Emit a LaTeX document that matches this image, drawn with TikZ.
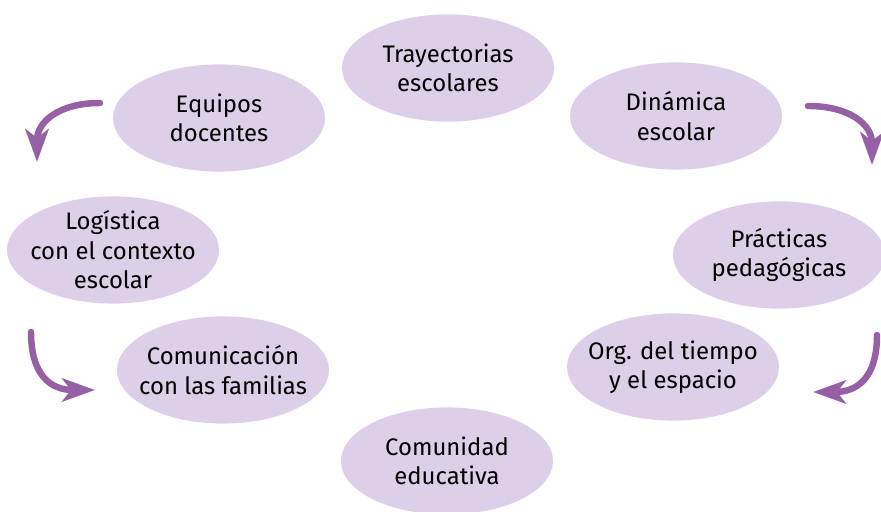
\documentclass[tikz,border=0pt]{standalone}
\usepackage{fontspec}
\setmainfont{Fira Sans}
\usetikzlibrary{shapes.geometric,arrows.meta}
\definecolor{lila}{RGB}{221,207,231}
\definecolor{violeta}{RGB}{150,96,165}
\begin{document}
\begin{tikzpicture}[
    x=0.025cm, y=0.025cm,
    every node/.style={ellipse, fill=lila, minimum width=5.3cm, minimum height=2.68cm, inner sep=-0.35cm, align=center, font=\fontsize{17}{21}\selectfont},
    arrow/.style={-{Stealth[length=0.82cm, width=0.58cm, inset=0.22cm]}, line width=4.6pt, line cap=round, violeta}
]
    \useasboundingbox (0,0) rectangle (881,512);

    % Nodes
    \node (tray) at (448,444) {Trayectorias\\escolares};
    \node (equi) at (219,394) {Equipos\\docentes};
    \node (dina) at (676,396) {Dinámica\\escolar};
    \node (logi) at (113,262) {Logística\\con el contexto\\escolar};
    \node (prac) at (779,257) {Prácticas\\pedagógicas};
    \node (comu) at (223,142) {Comunicación\\con las familias};
    \node (orga) at (673,145) {Org. del tiempo\\y el espacio};
    \node (cmed) at (447,51) {Comunidad\\educativa};

    % Arrow ends
    \coordinate (s1) at (100,409);
    \coordinate (t1) at (37,350);
    \coordinate (s2) at (808,406);
    \coordinate (t2) at (872,347);
    \coordinate (s3) at (31,180);
    \coordinate (t3) at (95,122);
    \coordinate (s4) at (877,177);
    \coordinate (t4) at (813,120);

    % Arrows
    \draw[arrow] (s1) to[out=180, in=90, looseness=1.2] (t1);
    \draw[arrow] (s2) to[out=0, in=90, looseness=1.2] (t2);
    \draw[arrow] (s3) to[out=-90, in=180, looseness=1.3] (t3);
    \draw[arrow] (s4) to[out=-90, in=0, looseness=1.3] (t4);
\end{tikzpicture}
\end{document}
